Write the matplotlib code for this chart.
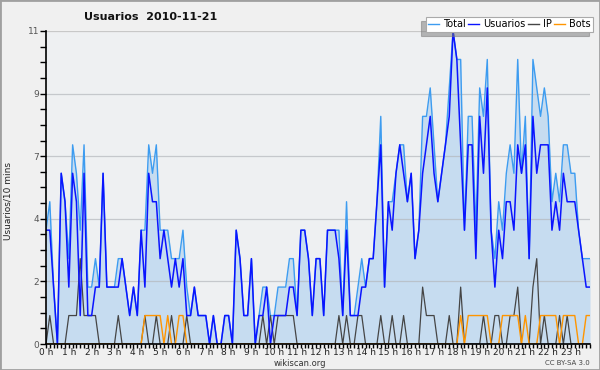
import matplotlib
matplotlib.use("Agg")
import matplotlib.pyplot as plt
from matplotlib.patches import Rectangle
from matplotlib.lines import Line2D
from matplotlib.ticker import MultipleLocator

# [Data]______________________________________________________________________
# one value every 10 min, 2010-11-21 (12 values = 2 hours per row)

total = [4, 5, 2, 0, 6, 5, 3, 7, 6, 4, 7, 2,
         2, 3, 2, 6, 2, 2, 2, 3, 3, 2, 1, 2,
         1, 4, 4, 7, 6, 7, 4, 4, 4, 3, 3, 3,
         4, 2, 1, 2, 1, 1, 1, 0, 1, 0, 0, 1,
         1, 0, 4, 3, 1, 1, 3, 0, 1, 2, 2, 1,
         1, 2, 2, 2, 3, 3, 1, 4, 4, 3, 1, 3,
         3, 1, 4, 4, 4, 4, 1, 5, 1, 1, 2, 3,
         2, 3, 3, 5, 8, 2, 5, 5, 6, 7, 7, 5,
         6, 3, 4, 8, 8, 9, 7, 5, 6, 7, 9, 11,
         10, 10, 4, 8, 8, 4, 9, 8, 10, 4, 3, 5,
         4, 6, 7, 6, 10, 6, 8, 3, 10, 9, 8, 9,
         8, 5, 6, 5, 7, 7, 6, 6, 4, 3, 3, 3]

usuarios = [4, 4, 2, 0, 6, 5, 2, 6, 5, 1, 6, 1,
            1, 2, 2, 6, 2, 2, 2, 2, 3, 2, 1, 2,
            1, 4, 2, 6, 5, 5, 3, 4, 3, 2, 3, 2,
            3, 1, 1, 2, 1, 1, 1, 0, 1, 0, 0, 1,
            1, 0, 4, 3, 1, 1, 3, 0, 1, 1, 2, 0,
            1, 1, 1, 1, 2, 2, 1, 4, 4, 3, 1, 3,
            3, 1, 4, 4, 4, 3, 1, 4, 1, 1, 1, 2,
            2, 3, 3, 5, 7, 2, 5, 4, 6, 7, 6, 5,
            6, 3, 4, 6, 7, 8, 6, 5, 6, 7, 8, 11,
            10, 7, 4, 7, 7, 3, 8, 6, 9, 4, 2, 4,
            3, 5, 5, 4, 7, 6, 7, 3, 8, 6, 7, 7,
            7, 4, 5, 4, 6, 5, 5, 5, 4, 3, 2, 2]

ip = [0, 1, 0, 0, 0, 0, 1, 1, 1, 3, 1, 1,
      1, 1, 0, 0, 0, 0, 0, 1, 0, 0, 0, 0,
      0, 0, 1, 0, 0, 1, 0, 0, 0, 1, 0, 0,
      0, 1, 0, 0, 0, 0, 0, 0, 0, 0, 0, 0,
      0, 0, 0, 0, 0, 0, 0, 0, 0, 1, 0, 1,
      0, 1, 1, 1, 1, 1, 0, 0, 0, 0, 0, 0,
      0, 0, 0, 0, 0, 1, 0, 1, 0, 0, 1, 1,
      0, 0, 0, 0, 1, 0, 0, 1, 0, 0, 1, 0,
      0, 0, 0, 2, 1, 1, 1, 0, 0, 0, 1, 0,
      0, 2, 0, 0, 0, 0, 0, 1, 0, 0, 1, 1,
      0, 0, 1, 1, 2, 0, 0, 0, 2, 3, 0, 1,
      0, 0, 0, 1, 0, 1, 0, 0, 0, 0, 0, 0]

bots = [0, 0, 0, 0, 0, 0, 0, 0, 0, 0, 0, 0,
        0, 0, 0, 0, 0, 0, 0, 0, 0, 0, 0, 0,
        0, 0, 1, 1, 1, 1, 1, 0, 1, 0, 0, 1,
        1, 0, 0, 0, 0, 0, 0, 0, 0, 0, 0, 0,
        0, 0, 0, 0, 0, 0, 0, 0, 0, 0, 0, 0,
        0, 0, 0, 0, 0, 0, 0, 0, 0, 0, 0, 0,
        0, 0, 0, 0, 0, 0, 0, 0, 0, 0, 0, 0,
        0, 0, 0, 0, 0, 0, 0, 0, 0, 0, 0, 0,
        0, 0, 0, 0, 0, 0, 0, 0, 0, 0, 0, 0,
        0, 1, 0, 1, 1, 1, 1, 1, 1, 0, 0, 0,
        1, 1, 1, 1, 1, 0, 1, 0, 0, 0, 1, 1,
        1, 1, 1, 0, 1, 1, 1, 1, 0, 0, 1, 1]

hour_labels = ["%d h" % h for h in range(24)]
y_ticks = [0, 2.2, 4.4, 6.6, 8.8, 11]
y_labels = ["0", "2", "4", "7", "9", "11"]

t = [i / 6 for i in range(len(total))]   # hours

# [Plot]______________________________________________________________________

fig = plt.figure(figsize=(6, 3.7), dpi=100, facecolor="#f0f0f0")
ax = fig.add_axes([46 / 600, 26 / 370, 544 / 600, 313 / 370])
ax.set_facecolor("#eef0f2")

ax.fill_between(t, total, color="#c6dcf0", lw=0, zorder=1)
for yv in y_ticks[1:-1]:
    ax.axhline(yv, color="#b4b8bc", lw=0.9, alpha=0.7, zorder=1.5)
ax.axhline(11, color="#c8c8c8", lw=0.9, zorder=1.5)
ax.plot(t, total, color="#3d9cf0", lw=1.0, zorder=2)
ax.plot(t, ip, color="#454545", lw=0.9, zorder=2.1)
ax.plot(t, bots, color="#ff9500", lw=1.0, zorder=2.2)
ax.plot(t, usuarios, color="#0a14ff", lw=1.1, zorder=2.3)

ax.set_xlim(0, t[-1])
ax.set_ylim(0, 11)
ax.set_xticks(range(24))
ax.set_xticklabels(hour_labels, fontsize=6.5, color="#222222")
ax.xaxis.set_minor_locator(MultipleLocator(1 / 6))
ax.set_yticks(y_ticks)
ax.set_yticklabels(y_labels, fontsize=6.5, color="#555555")
ax.yaxis.set_minor_locator(MultipleLocator(0.55))
ax.tick_params(axis="x", which="both", direction="out", length=3, width=1, pad=0)
ax.tick_params(axis="y", which="major", direction="out", length=4, width=1, pad=1)
ax.tick_params(axis="y", which="minor", direction="out", length=4, width=1)
for s in ["top", "right"]:
    ax.spines[s].set_visible(False)
for s in ["left", "bottom"]:
    ax.spines[s].set_linewidth(1.2)

fig.text(151 / 600, 1 - 17 / 370, "Usuarios  2010-11-21", ha="center", va="center",
         fontsize=8, fontweight="bold", color="#111111")
fig.text(8 / 600, 1 - 201 / 370, "Usuarios/10 mins", rotation=90, ha="center", va="center",
         fontsize=6.5, color="#222222")
fig.text(300 / 600, 1 - 363 / 370, "wikiscan.org", ha="center", va="center",
         fontsize=6, color="#333333")
fig.text(590 / 600, 1 - 363 / 370, "CC BY-SA 3.0", ha="right", va="center",
         fontsize=5, color="#444444")

handles = [Line2D([], [], color="#3d9cf0", lw=1),
           Line2D([], [], color="#0a14ff", lw=1),
           Line2D([], [], color="#454545", lw=1),
           Line2D([], [], color="#ff9500", lw=1)]
leg = fig.legend(handles, ["Total", "Usuarios", "IP", "Bots"], loc="upper right",
                 bbox_to_anchor=(593 / 600, 1 - 17 / 370), ncol=4, fontsize=7,
                 frameon=True, fancybox=False, edgecolor="#aaaaaa", facecolor="white",
                 framealpha=1, borderpad=0.25, handlelength=1.1, handletextpad=0.4,
                 columnspacing=0.3, borderaxespad=0,
                 shadow={"ox": -3, "oy": -3, "color": "#777777"})
leg.get_frame().set_linewidth(0.8)

fig.patches.append(Rectangle((0, 0), 1, 1, transform=fig.transFigure, fill=False,
                             edgecolor="#a0a0a0", lw=2))

plt.savefig("out.png", dpi=100, facecolor=fig.get_facecolor())
